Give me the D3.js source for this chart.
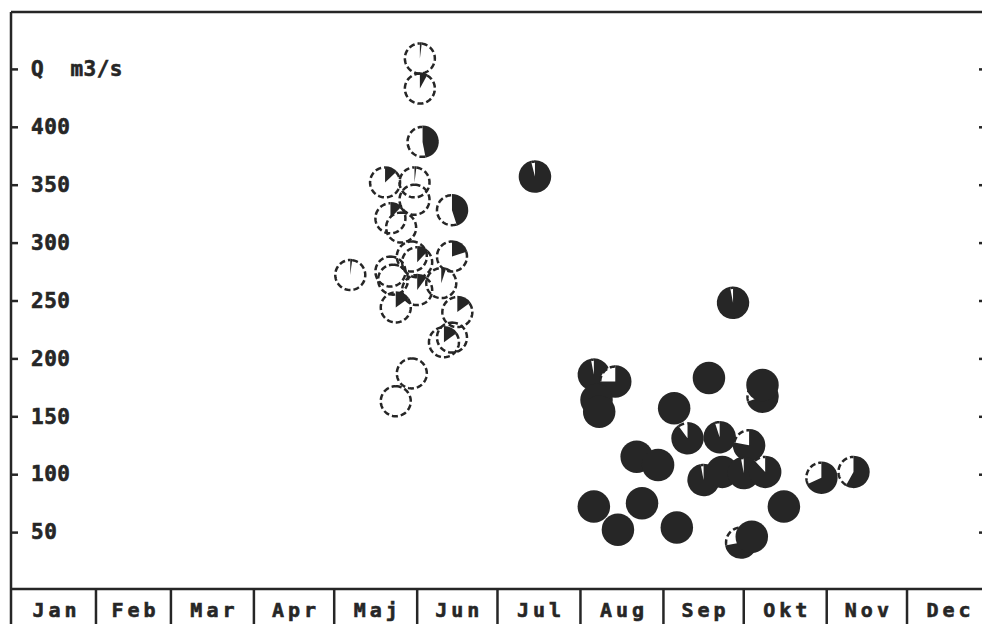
<!DOCTYPE html>
<html>
<head>
<meta charset="utf-8">
<script src="https://cdn.jsdelivr.net/npm/d3@7"></script>
<style>
  html, body { margin: 0; padding: 0; background: #fff; }
  svg { display: block; }
  text { font-family: "DejaVu Sans Mono", monospace; font-weight: bold; fill: #262626; stroke: #262626; stroke-width: 0.6px; }
</style>
</head>
<body>
<svg id="chart" width="982" height="624"></svg>
<script>
// Flood peaks: day of the year (MM-DD), peak discharge Q (m3/s) and the
// share of the circle drawn black.
const peakDays = [
  "06-02","06-02","06-03","05-20","05-31","05-31","05-22","05-26","06-14","05-30",
  "05-22","06-01","06-14","05-07","05-23","06-01","06-10","05-24","06-16","06-11",
  "06-14","05-30","05-24",
  "07-15","08-06","08-14","08-07","08-08","09-18","09-05","09-10","09-22","10-03",
  "08-22","08-30","09-16","09-23","10-01","10-09","08-06","08-15","08-24","09-06",
  "10-16","10-30","11-11","09-30","10-04","09-27","10-08","10-08"
];
const peakQ = [
  459, 433, 387, 352, 352, 337, 321, 313, 328, 288,
  275, 283, 288, 272, 268, 259, 265, 244, 240, 214,
  218, 187, 163,
  357, 186, 180, 164, 154, 183, 157, 131, 132, 125,
  115, 108, 95, 102, 101, 102, 72, 52, 75, 54,
  72, 97, 102, 41, 46, 248, 167, 177
];
const blackShare = [
  0.02, 0.08, 0.47, 0.13, 0.02, 0, 0.12, 0, 0.45, 0,
  0, 0.12, 0.2, 0.02, 0, 0.1, 0.05, 0.15, 0.15, 0.15,
  0, 0, 0,
  0.96, 0.97, 0.75, 1, 1, 1, 1, 0.9, 0.95, 0.78,
  1, 1, 0.97, 1, 0.97, 0.88, 1, 1, 1, 1,
  1, 0.68, 0.58, 0.72, 1, 0.97, 0.7, 1
];

const monthNames = ["Jan","Feb","Mar","Apr","Maj","Jun","Jul","Aug","Sep","Okt","Nov","Dec"];
const qTicks = [50, 100, 150, 200, 250, 300, 350, 400, 450];
const qUnitLabel = "Q  m3/s";

const YEAR = 1985;
const ink = "#262626";
const svg = d3.select("#chart");
svg.append("rect").attr("width", 982).attr("height", 624).attr("fill", "#fff");

const parseDay = d3.timeParse("%Y-%m-%d");
const x = d3.scaleTime()
  .domain([new Date(YEAR, 0, 1), new Date(YEAR + 1, 0, 1)])
  .range([13, 990]);
const y = d3.scaleLinear().domain([0, 500]).range([590, 11]);

const plotLeft = 11, plotRight = 987, plotTop = 12, stripTop = 589, stripBottom = 624;

// Frame
const frame = svg.append("g").attr("stroke", ink).attr("stroke-width", 2.5).attr("fill", "none");
frame.append("line").attr("x1", plotLeft).attr("x2", 990).attr("y1", plotTop).attr("y2", plotTop);
frame.append("line").attr("x1", plotLeft).attr("x2", plotLeft).attr("y1", plotTop).attr("y2", stripBottom);
frame.append("line").attr("x1", plotLeft).attr("x2", 990).attr("y1", stripTop).attr("y2", stripTop);

// Left axis with labels inside the frame
const leftAxis = d3.axisRight(y)
  .tickValues(qTicks)
  .tickSize(7)
  .tickPadding(13)
  .tickFormat(d => d === 450 ? qUnitLabel : String(d));
const gLeft = svg.append("g").attr("transform", `translate(${plotLeft},0)`).call(leftAxis);
gLeft.select(".domain").remove();
gLeft.selectAll(".tick line").attr("stroke", ink).attr("stroke-width", 2.5);
gLeft.selectAll(".tick text")
  .attr("font-size", 21)
  .attr("letter-spacing", 0.5)
  .style("white-space", "pre")
  .attr("fill", ink);

// Right axis: tick marks only
const rightAxis = d3.axisLeft(y).tickValues(qTicks).tickSize(8).tickFormat("");
const gRight = svg.append("g").attr("transform", `translate(${plotRight},0)`).call(rightAxis);
gRight.select(".domain").remove();
gRight.selectAll(".tick line").attr("stroke", ink).attr("stroke-width", 2.5);

// Month strip
const monthStarts = d3.range(12).map(m => new Date(YEAR, m, 1));
const monthEnds = d3.range(12).map(m => new Date(YEAR, m + 1, 1));
svg.append("g").selectAll("line")
  .data(monthStarts.slice(1))
  .join("line")
  .attr("x1", d => x(d)).attr("x2", d => x(d))
  .attr("y1", stripTop).attr("y2", stripBottom)
  .attr("stroke", ink).attr("stroke-width", 2.5);
svg.append("g").selectAll("text")
  .data(monthNames)
  .join("text")
  .attr("x", (d, i) => (x(monthStarts[i]) + x(monthEnds[i])) / 2 + 2)
  .attr("y", 617)
  .attr("text-anchor", "middle")
  .attr("font-size", 20)
  .attr("letter-spacing", 4)
  .text(d => d);

// Peaks as small pies: black share clockwise from 12 o'clock,
// the rest of the rim dashed.
const peaks = peakDays.map((d, i) => ({
  date: parseDay(`${YEAR}-${d}`),
  q: peakQ[i],
  share: blackShare[i]
}));
const R = 15;
const full = 2 * Math.PI;
const blackArc = d3.arc().innerRadius(0).outerRadius(R + 1.25);
const pie = svg.append("g").selectAll("g.peak")
  .data(peaks)
  .join("g")
  .attr("class", "peak")
  .attr("transform", d => `translate(${x(d.date)},${y(d.q)})`);

pie.each(function(d) {
  const node = d3.select(this);
  const end = d.share * full;
  if (d.share >= 0.5) {
    node.append("circle").attr("r", R).attr("fill", "#fff");
  }
  if (d.share > 0) {
    node.append("path")
      .attr("d", blackArc({ startAngle: 0, endAngle: end }))
      .attr("fill", ink);
  }
  if (d.share < 1) {
    // open arc along the white part of the rim
    const a0 = end, a1 = full;
    const pts = d3.range(0, 61).map(k => {
      const a = a0 + (a1 - a0) * k / 60;
      return [R * Math.sin(a), -R * Math.cos(a)];
    });
    node.append("path")
      .attr("d", d3.line()(pts))
      .attr("fill", "none")
      .attr("stroke", ink)
      .attr("stroke-width", 2.5)
      .attr("stroke-dasharray", "6,3");
  }
});
</script>
</body>
</html>
